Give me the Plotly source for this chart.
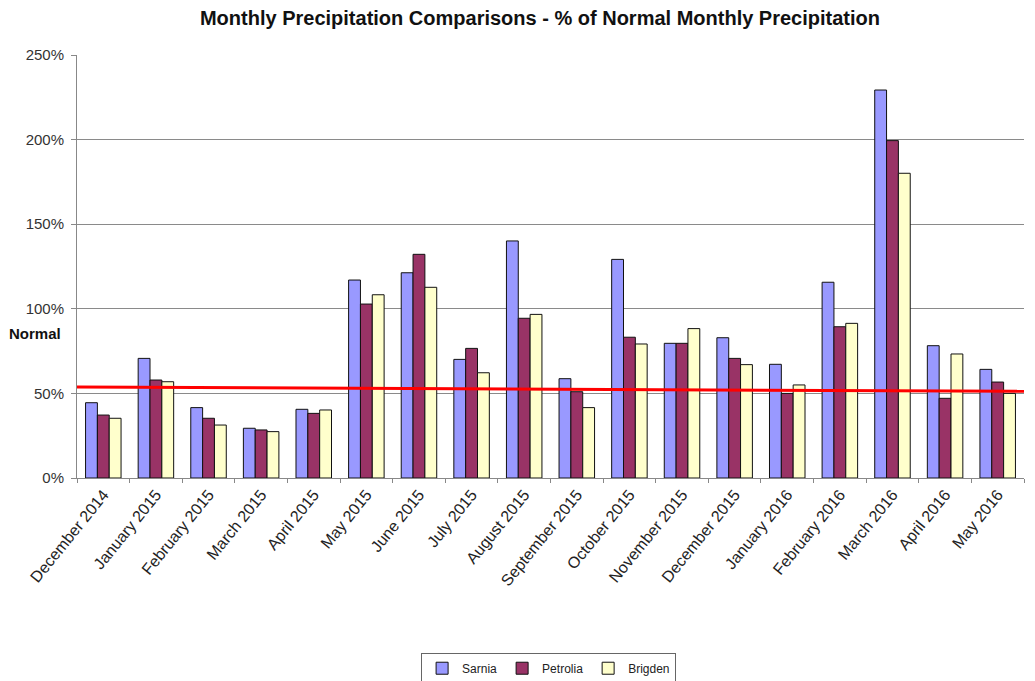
import plotly.graph_objects as go

# Data (% of normal monthly precipitation)
months = ["December 2014", "January 2015", "February 2015", "March 2015", "April 2015",
          "May 2015", "June 2015", "July 2015", "August 2015", "September 2015",
          "October 2015", "November 2015", "December 2015", "January 2016",
          "February 2016", "March 2016", "April 2016", "May 2016"]
sarnia = [44.5, 70.7, 41.6, 29.4, 40.6, 117.0, 121.3, 70.1, 140.1, 58.7,
          129.2, 79.6, 82.9, 67.2, 115.7, 229.3, 78.2, 64.2]
petrolia = [37.2, 57.9, 35.3, 28.4, 38.2, 102.8, 132.2, 76.6, 94.4, 51.0,
            83.2, 79.6, 70.7, 50.0, 89.4, 199.4, 47.1, 56.7]
brigden = [35.3, 56.9, 31.3, 27.4, 40.2, 108.3, 112.7, 62.2, 96.7, 41.6,
           79.2, 88.3, 67.0, 55.0, 91.4, 180.1, 73.3, 50.0]
normal_line = [53.8, 51.2]  # red "normal" line, left end / right end
y_ticks = [0, 50, 100, 150, 200, 250]
y_labels = ["0%", "50%", "100%", "150%", "200%", "250%"]

font = "Liberation Sans, Arial, sans-serif"

data = [
    go.Bar(x=months, y=sarnia, name="Sarnia",
           marker=dict(color="#9999FF", line=dict(color="#111111", width=1))),
    go.Bar(x=months, y=petrolia, name="Petrolia",
           marker=dict(color="#993366", line=dict(color="#111111", width=1))),
    go.Bar(x=months, y=brigden, name="Brigden",
           marker=dict(color="#FFFFCC", line=dict(color="#111111", width=1))),
]

# page body adds an 8px offset, so the figure is 8px smaller than the window
layout = go.Layout(
    width=1027, height=673,
    margin=dict(l=69, r=11, t=47, b=203, autoexpand=False),
    paper_bgcolor="white", plot_bgcolor="white",
    font=dict(family=font, size=15, color="#333333"),
    title=dict(text="<b>Monthly Precipitation Comparisons - % of Normal Monthly Precipitation</b>",
               x=0.518, xanchor="center", y=0.985, yanchor="middle",
               font=dict(family=font, size=20, color="#111111")),
    barmode="group", bargap=0.325, bargroupgap=0,
    xaxis=dict(tickangle=-51, showline=True, linecolor="#888888", linewidth=1,
               ticks="outside", ticklen=4, tickcolor="#888888",
               tickson="boundaries", showgrid=False, automargin=False,
               tickfont=dict(size=16, color="#222222")),
    yaxis=dict(range=[0, 250], tickvals=y_ticks, ticktext=y_labels,
               showline=True, linecolor="#888888", linewidth=1,
               ticks="outside", ticklen=5, tickcolor="#888888", ticklabelstandoff=4,
               showgrid=True, gridcolor="#8a8a8a", gridwidth=1, automargin=False,
               tickfont=dict(size=15, color="#333333")),
    legend=dict(orientation="h", x=0.498, xanchor="center", yref="container",
                y=0.042, yanchor="top", bordercolor="#666666", borderwidth=1,
                font=dict(size=12, color="#222222"), itemwidth=30, tracegroupgap=0),
    shapes=[dict(type="line", xref="paper", yref="y", x0=0, x1=1,
                 y0=normal_line[0], y1=normal_line[1],
                 line=dict(color="#FF0000", width=3))],
    annotations=[dict(text="<b>Normal</b>", xref="paper", yref="y", x=-0.015, y=85.7,
                      xanchor="right", yanchor="middle", showarrow=False,
                      font=dict(size=15, color="#111111"))],
)

fig = go.Figure(data=data, layout=layout)
fig.write_html("out.html")
